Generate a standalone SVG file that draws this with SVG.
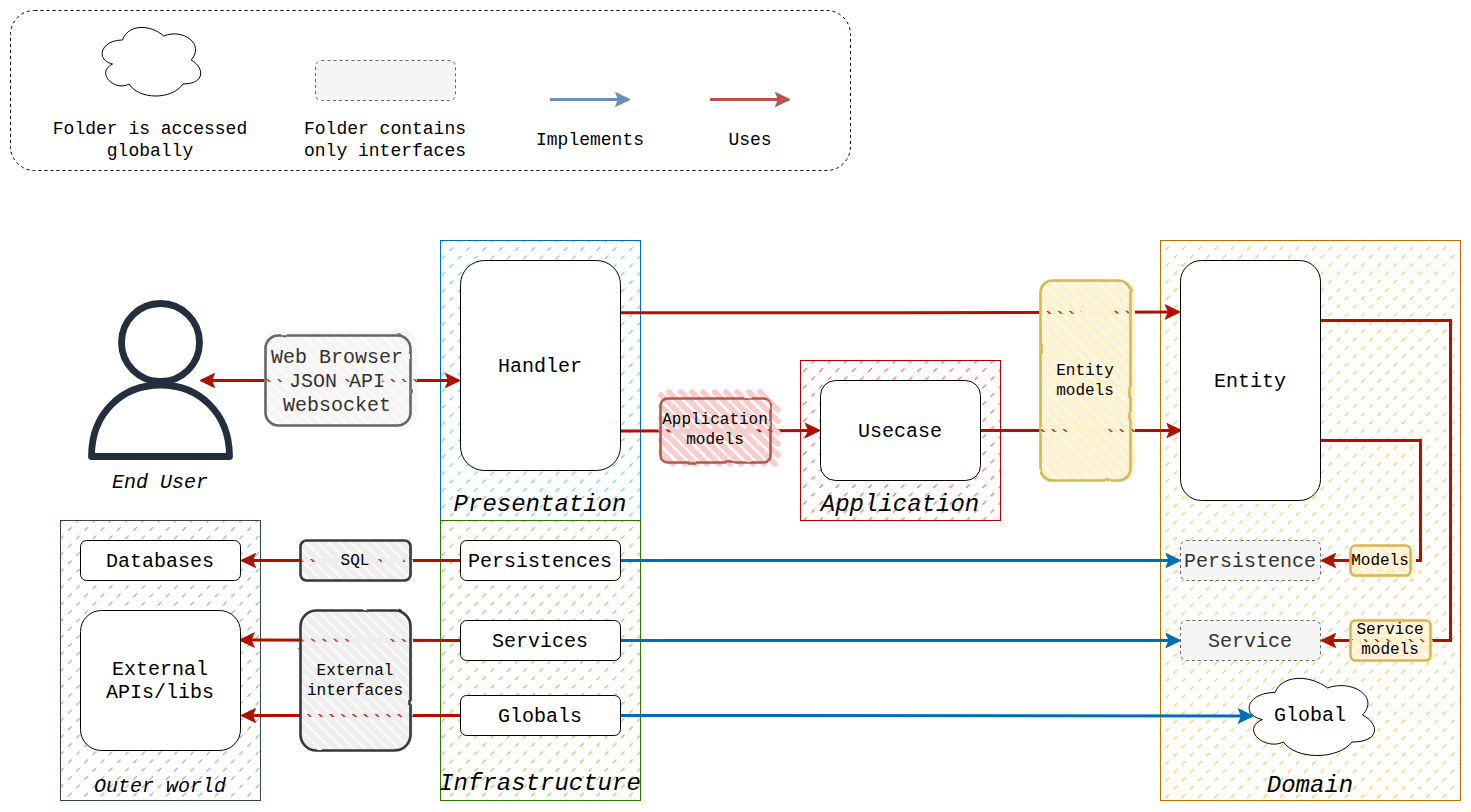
<svg xmlns="http://www.w3.org/2000/svg" width="1471" height="812" viewBox="0 0 1471 812">
<style>
text{font-family:"Liberation Mono","DejaVu Sans Mono",monospace;text-anchor:middle;fill:#000}
.f16{font-size:16px}.f18{font-size:18px}.f20{font-size:20px}
.it{font-style:italic}.f24{font-size:24px}
.node{fill:#fff;stroke:#000;stroke-width:1}
.iface{fill:#f5f5f5;stroke:#666;stroke-width:1;stroke-dasharray:3 3}
.cont{stroke-width:1}
.u{fill:none;stroke:#B11000;stroke-width:3}
.i{fill:none;stroke:#006EAF;stroke-width:3}
.cloud{fill:#fff;stroke:#000;stroke-width:1;vector-effect:non-scaling-stroke}
.sk{fill:none;stroke-width:2.6;stroke-linejoin:round;filter:url(#rough)}
.d{stroke-width:1;opacity:.8;fill:none}
</style>
<defs>
<filter id="rough" x="-5%" y="-5%" width="110%" height="110%"><feTurbulence type="fractalNoise" baseFrequency=".05" numOctaves="2" seed="4"/><feDisplacementMap in="SourceGraphic" scale="2.2" xChannelSelector="R" yChannelSelector="G"/></filter>
<path id="cloudShape" class="cloud" d="M25 25C5 25 0 50 16 55C0 66 18 90 31 80C40 100 70 100 80 80C100 80 100 60 87.5 50C100 30 80 10 62.5 20C50 5 30 5 25 25Z"/>
<marker id="mu" markerUnits="userSpaceOnUse" markerWidth="18" markerHeight="18" refX="14" refY="9" orient="auto-start-reverse" viewBox="0 0 18 18"><path d="M1 2L15.500 9L1 16L4 9Z" fill="#B11000" stroke="#B11000"/></marker>
<marker id="mi" markerUnits="userSpaceOnUse" markerWidth="18" markerHeight="18" refX="14" refY="9" orient="auto" viewBox="0 0 18 18"><path d="M1 2L15.500 9L1 16L4 9Z" fill="#006EAF" stroke="#006EAF"/></marker>
<marker id="mlb" markerUnits="userSpaceOnUse" markerWidth="18" markerHeight="18" refX="14" refY="9" orient="auto" viewBox="0 0 18 18"><path d="M1 2L15.500 9L1 16L4 9Z" fill="#6c8ebf" stroke="#6c8ebf"/></marker>
<marker id="mlr" markerUnits="userSpaceOnUse" markerWidth="18" markerHeight="18" refX="14" refY="9" orient="auto" viewBox="0 0 18 18"><path d="M1 2L15.500 9L1 16L4 9Z" fill="#b85450" stroke="#b85450"/></marker>
<pattern id="hBlue" x="447.700" y="245" width="16.300" height="16.600" patternUnits="userSpaceOnUse"><path class="d" d="M2.200 5.800L5.800 2.200M10.350 14.100L13.950 10.500" stroke="#1ba1e2"/></pattern>
<pattern id="hGreen" x="447.700" y="525" width="16.300" height="16.600" patternUnits="userSpaceOnUse"><path class="d" d="M2.200 5.800L5.800 2.200M10.350 14.100L13.950 10.500" stroke="#60a917"/></pattern>
<pattern id="hSlate" x="66" y="525" width="16.300" height="16.600" patternUnits="userSpaceOnUse"><path class="d" d="M2.200 5.800L5.800 2.200M10.350 14.100L13.950 10.500" stroke="#647687"/></pattern>
<pattern id="hRed" x="801" y="366" width="16.300" height="16.600" patternUnits="userSpaceOnUse"><path class="d" d="M2.200 5.800L5.800 2.200M10.350 14.100L13.950 10.500" stroke="#e51400"/></pattern>
<pattern id="hAmber" x="1342.700" y="244.300" width="16.300" height="16.600" patternUnits="userSpaceOnUse"><path class="d" d="M2.200 5.800L5.800 2.200M10.350 14.100L13.950 10.500" stroke="#f0a30a"/></pattern>
<pattern id="sYellow" width="8" height="8" patternUnits="userSpaceOnUse" patternTransform="rotate(45)"><rect width="8" height="6.600" fill="#fff2cc"/></pattern>
<pattern id="sLight" width="8" height="8" patternUnits="userSpaceOnUse" patternTransform="rotate(45)"><rect width="8" height="6.600" fill="#f5f5f5"/></pattern>
<pattern id="sGray" width="8" height="8" patternUnits="userSpaceOnUse" patternTransform="rotate(45)"><rect width="8" height="6.600" fill="#eeeeee"/></pattern>
</defs>

<g id="legend">
<rect x="10.500" y="10.500" width="840" height="160" rx="24" fill="#fff" stroke="#000" stroke-dasharray="3 3"/>
<use href="#cloudShape" transform="translate(95 20) scale(1.1 .8)"/>
<rect class="iface" x="315.500" y="60.500" width="140" height="40" rx="6"/>
<path d="M550 99.500H628.500" fill="none" stroke="#6c8ebf" stroke-width="3" marker-end="url(#mlb)"/>
<path d="M710 99.500H788.500" fill="none" stroke="#b85450" stroke-width="3" marker-end="url(#mlr)"/>
<text class="f18" x="150" y="134">Folder is accessed</text>
<text class="f18" x="150" y="156">globally</text>
<text class="f18" x="385" y="134">Folder contains</text>
<text class="f18" x="385" y="156">only interfaces</text>
<text class="f18" x="590" y="145">Implements</text>
<text class="f18" x="750" y="145">Uses</text>
</g>

<g id="layer-presentation"><rect class="cont" x="440.500" y="240.500" width="200" height="280" fill="url(#hBlue)" stroke="#006EAF"/></g>
<g id="layer-infrastructure"><rect class="cont" x="440.500" y="520.500" width="200" height="280" fill="url(#hGreen)" stroke="#2D7600"/></g>
<g id="layer-outer"><rect class="cont" x="60.500" y="520.500" width="200" height="280" fill="url(#hSlate)" stroke="#314354"/></g>
<g id="layer-application"><rect class="cont" x="800.500" y="360.500" width="200" height="160" fill="url(#hRed)" stroke="#B20000"/></g>
<g id="layer-domain"><rect class="cont" x="1160.500" y="240.500" width="300" height="560" fill="url(#hAmber)" stroke="#BD7000"/></g>

<g id="connectors">
<path class="u" d="M201.500 380.500H458.500" marker-start="url(#mu)" marker-end="url(#mu)"/>
<path class="u" d="M620 312.800L900 312.800L1178.500 312" marker-end="url(#mu)"/>
<path class="u" d="M619 431L818.500 430.500" marker-end="url(#mu)"/>
<path class="u" d="M980 430.500H1180" marker-end="url(#mu)"/>
<path class="u" d="M1320 440.500H1420.500V560.500H1322.500" marker-end="url(#mu)"/>
<path class="u" d="M1320 320.500H1450.500V640.500H1322.500" marker-end="url(#mu)"/>
<path class="u" d="M460 560.500H242.500" marker-end="url(#mu)"/>
<path class="u" d="M460 640.500L241 640" marker-end="url(#mu)"/>
<path class="u" d="M460 715.500H242.500" marker-end="url(#mu)"/>
<path class="i" d="M620 560.500H1179" marker-end="url(#mi)"/>
<path class="i" d="M620 640.500H1179" marker-end="url(#mi)"/>
<path class="i" d="M620 715.500L1251.500 716" marker-end="url(#mi)"/>
</g>

<g id="end-user">
<circle cx="160.500" cy="342.500" r="39" fill="none" stroke="#232F3E" stroke-width="6.800"/>
<path d="M91.500 456.500H229.500C229.500 412 198 385 160.500 385C123 385 91.500 412 91.500 456.500Z" fill="none" stroke="#232F3E" stroke-width="6.800" stroke-linejoin="round"/>
<text class="f20 it" x="160" y="488">End User</text>
</g>

<g id="label-web">
<rect x="264" y="331" width="153" height="96" rx="12" fill="url(#sLight)"/>
<path d="M282 378h62v5h-62zM350 378h32v5h-32z" fill="#f5f5f5"/>
<rect class="sk" x="265.500" y="335.500" width="145" height="90" rx="13" stroke="#666"/>
<text class="f20" style="fill:#333" x="337" y="363">Web Browser</text>
<text class="f20" style="fill:#333" x="337" y="387">JSON API</text>
<text class="f20" style="fill:#333" x="337" y="411">Websocket</text>
</g>

<g id="handler"><rect class="node" x="460.500" y="260.500" width="160" height="210" rx="24"/><text class="f20" x="540" y="372">Handler</text></g>
<text class="f24 it" x="540" y="511">Presentation</text>

<g id="label-app">
<path fill="none" stroke="#f8cecc" stroke-width="5.800" stroke-linecap="round" d="M661 452L673 464M661 440L685 464M661 429L696 464M661 418L707 464M661 406L719 464M661 395L730 464M669 392L741 464M681 392L753 464M692 392L764 464M703 392L775 464M715 392L778 455M726 392L778 444M737 392L778 433M749 392L778 421M760 392L778 410"/>
<path d="M676 428.500h76v5h-76z" fill="#f8cecc"/>
<rect class="sk" x="660.500" y="398.500" width="110" height="64" rx="7" stroke="#b85450"/>
<text class="f16" x="715" y="424">Application</text>
<text class="f16" x="715" y="444">models</text>
</g>

<g id="usecase"><rect class="node" x="820.500" y="380.500" width="160" height="100" rx="15"/><text class="f20" x="900" y="437">Usecase</text></g>
<text class="f24 it" x="900" y="511">Application</text>

<g id="label-entity">
<rect x="1041" y="281" width="94" height="200" rx="12" fill="url(#sYellow)"/>
<path d="M1081 310h31v5h-31zM1073 428h33v5h-33z" fill="#fff2cc"/>
<rect class="sk" x="1040.500" y="280.500" width="90" height="200" rx="12" stroke="#d6b656"/>
<text class="f16" x="1085" y="375">Entity</text>
<text class="f16" x="1085" y="395">models</text>
</g>

<g id="entity"><rect class="node" x="1180.500" y="260.500" width="140" height="240" rx="21"/><text class="f20" x="1250" y="387">Entity</text></g>

<g id="persistence"><rect class="iface" x="1180.500" y="540.500" width="140" height="40" rx="6"/><text class="f20" style="fill:#333" x="1250" y="567">Persistence</text></g>
<g id="service"><rect class="iface" x="1180.500" y="620.500" width="140" height="40" rx="6"/><text class="f20" style="fill:#333" x="1250" y="647">Service</text></g>

<g id="label-models">
<rect x="1350" y="546" width="66" height="32" rx="5" fill="url(#sYellow)"/>
<path d="M1354 558h56v5h-56z" fill="#fff2cc"/>
<rect class="sk" x="1350.500" y="545.500" width="60" height="30" rx="5" stroke="#d6b656"/>
<text class="f16" x="1380" y="565">Models</text>
</g>
<g id="label-service-models">
<rect x="1351" y="618" width="82" height="44" rx="5" fill="url(#sYellow)"/>
<path d="M1353 638h11v5h-11zM1392 638h16v5h-16z" fill="#fff2cc"/>
<rect class="sk" x="1350.500" y="620.500" width="80" height="40" rx="5" stroke="#d6b656"/>
<text class="f16" x="1390" y="634">Service</text>
<text class="f16" x="1390" y="654">models</text>
</g>

<g id="global"><use href="#cloudShape" transform="translate(1240 670) scale(1.4 .9)"/><text class="f20" x="1310" y="721">Global</text></g>
<text class="f24 it" x="1310" y="792">Domain</text>

<g id="persistences"><rect class="node" x="460.500" y="540.500" width="160" height="40" rx="6"/><text class="f20" x="540" y="567">Persistences</text></g>
<g id="services"><rect class="node" x="460.500" y="620.500" width="160" height="40" rx="6"/><text class="f20" x="540" y="647">Services</text></g>
<g id="globals"><rect class="node" x="460.500" y="695.500" width="160" height="40" rx="6"/><text class="f20" x="540" y="722">Globals</text></g>
<text class="f24 it" x="540" y="790">Infrastructure</text>

<g id="databases"><rect class="node" x="80.500" y="540.500" width="160" height="40" rx="6"/><text class="f20" x="160" y="567">Databases</text></g>
<g id="external"><rect class="node" x="80.500" y="610.500" width="160" height="140" rx="21"/><text class="f20" x="160" y="675">External</text><text class="f20" x="160" y="698">APIs/libs</text></g>
<text class="f20 it" x="160" y="792">Outer world</text>

<g id="label-sql">
<rect x="300" y="541" width="113" height="41" rx="6" fill="url(#sGray)"/>
<path d="M316 558h58v5h-58zM382 558h21v5h-21z" fill="#eee"/>
<rect class="sk" x="300.500" y="540.500" width="110" height="40" rx="6" stroke="#36393d"/>
<text class="f16" x="355" y="565">SQL</text>
</g>
<g id="label-external">
<rect x="300" y="611" width="113" height="141" rx="16" fill="url(#sGray)"/>
<path d="M356 637.500h33v5h-33z" fill="#eee"/>
<rect class="sk" x="300.500" y="610.500" width="110" height="140" rx="16" stroke="#36393d"/>
<text class="f16" x="355" y="675">External</text>
<text class="f16" x="355" y="695">interfaces</text>
</g>
</svg>
